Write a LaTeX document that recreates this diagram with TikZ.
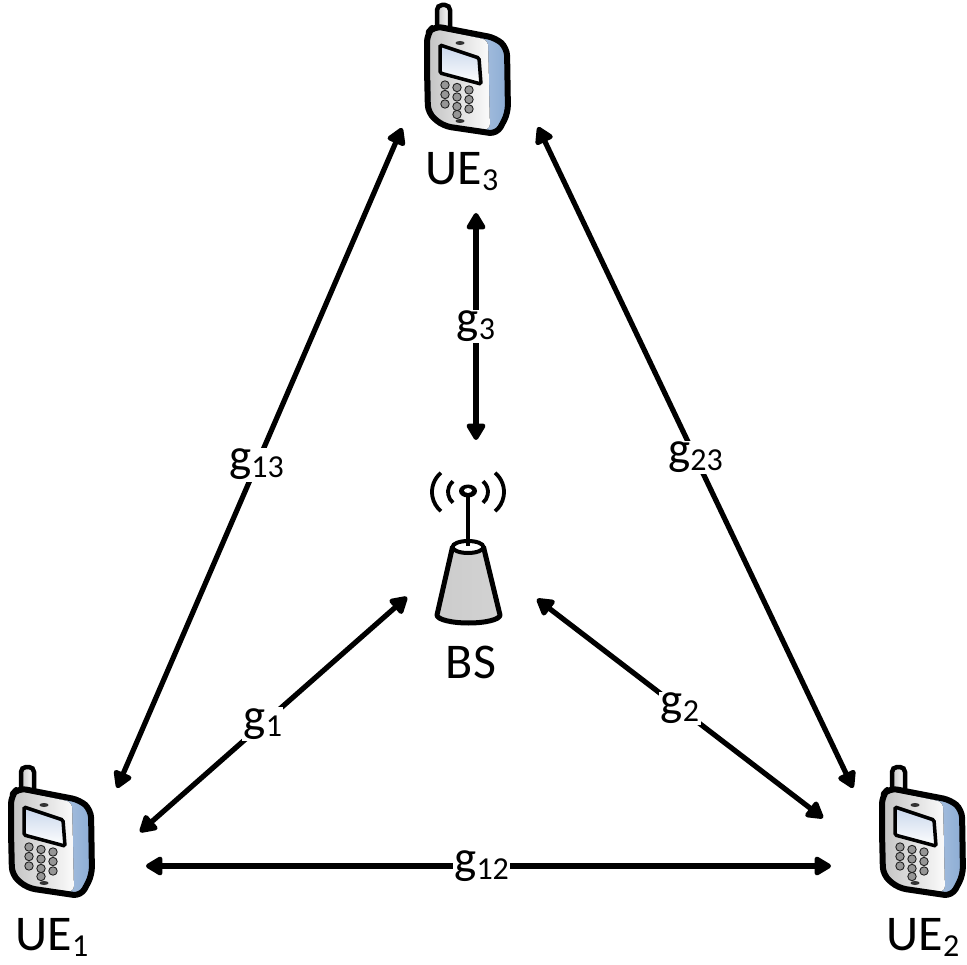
\documentclass[tikz,border=0pt]{standalone}
\usepackage{fontspec}
\setmainfont{Carlito}
\usetikzlibrary{arrows.meta}

\definecolor{phblueL}{RGB}{215,228,242}
\definecolor{phblueD}{RGB}{140,172,212}
\definecolor{scrL}{RGB}{200,214,235}
\definecolor{keyfill}{RGB}{150,150,150}

% text with a lowered, smaller index
\newcommand\sublbl[2]{#1\raisebox{-0.12em}{\fontsize{32}{32}\selectfont #2}}

\tikzset{
  x=1pt, y=-1pt,
  link/.style={line width=5.2pt,
    {Triangle[length=19pt,width=21pt,round]}-{Triangle[length=19pt,width=21pt,round]}},
  lab/.style={fill=white, inner sep=1.5pt, font=\fontsize{47}{47}\selectfont},
  devname/.style={inner sep=0pt, anchor=base, font=\fontsize{50}{50}\selectfont},
  phone/.pic={
    % antenna stub
    \draw[line width=4.5pt, rounded corners=5pt, left color=gray!45, right color=white]
      (27,40) -- (27,5) -- (40,5) -- (40,40);
    % casing, blue side
    \fill[rounded corners=8pt, left color=phblueL, right color=phblueD]
      (17,70) -- (17,34) -- (24,26) -- (86,38) -- (97,48) -- (98,113) -- (87,134)
      -- (33,126) -- (18,113) -- cycle;
    % front face
    \fill[rounded corners=6pt, left color=gray!45, right color=gray!3]
      (20,70) -- (20,34) -- (26,29) -- (78,40) -- (80,130) -- (34,124) -- (21,111) -- cycle;
    % outline
    \draw[line width=6pt, rounded corners=8pt, line join=round]
      (17,70) -- (17,34) -- (24,26) -- (86,38) -- (97,48) -- (98,113) -- (87,134)
      -- (33,126) -- (18,113) -- cycle;
    % screen
    \draw[line width=3.5pt, rounded corners=1.5pt, top color=scrL, bottom color=white]
      (30,45) -- (69,58) -- (71,84) -- (30,73) -- cycle;
    % speaker and microphone slots
    \fill[gray!40!black] (50,43) ellipse [x radius=4.5pt, y radius=2pt];
    \fill[gray!40!black] (50,121) ellipse [x radius=4.5pt, y radius=2pt];
    % keypad
    \foreach \c in {0,1,2}
      \foreach \r in {0,1,2}
        \filldraw[fill=keyfill, draw=gray!25!black, line width=0.9pt]
          ({35+12*\c},{85+9.5*\r+2.5*\c}) circle [radius=4.2pt];
    \filldraw[fill=keyfill, draw=gray!25!black, line width=0.9pt]
      (47,114.5) circle [radius=4.2pt];
  }
}

\begin{document}
\begin{tikzpicture}
\useasboundingbox (0,0) rectangle (967,965);

% user terminals
\pic at (410,0) {phone};
\pic at (-6,762) {phone};
\pic at (865,762) {phone};

\node[devname] (ue3) at (462,185) {\sublbl{UE}{3}};
\node[devname] (ue1) at (52,950) {\sublbl{UE}{1}};
\node[devname] (ue2) at (923,950) {\sublbl{UE}{2}};

% base station
\draw[line width=3.8pt] (462,492) ++(130:14pt) arc [start angle=130, end angle=230, radius=14pt];
\draw[line width=3.8pt] (474,492) ++(50:14pt) arc [start angle=50, end angle=-50, radius=14pt];
\draw[line width=3.8pt] (457,492) ++(130:25pt) arc [start angle=130, end angle=230, radius=25pt];
\draw[line width=3.8pt] (479,492) ++(50:25pt) arc [start angle=50, end angle=-50, radius=25pt];
\fill (468,491) ellipse [x radius=9pt, y radius=6.5pt];
\fill[white] (468,490.5) ellipse [x radius=4pt, y radius=2.4pt];
\draw[line width=5pt, line join=round, left color=gray!40, middle color=white, right color=gray!35]
  (452.5,547) -- (437,615) arc [start angle=180, end angle=360, x radius=31.5pt, y radius=8pt]
  -- (483.5,547) -- cycle;
\draw[line width=4pt, fill=white] (468,547) ellipse [x radius=15.5pt, y radius=6pt];
\draw[line width=4.5pt] (468,497) -- (468,546);
\node[devname] (bs) at (471,678) {BS};

% link end points
\coordinate (t3a) at (476,213);
\coordinate (t3b) at (476,440);
\coordinate (t13a) at (402,128);
\coordinate (t13b) at (117,788);
\coordinate (t23a) at (538,127);
\coordinate (t23b) at (853,788);
\coordinate (t1a) at (407,597);
\coordinate (t1b) at (140,832);
\coordinate (t2a) at (537,599);
\coordinate (t2b) at (823,818);
\coordinate (t12a) at (146,866);
\coordinate (t12b) at (831,866);

% channels
\draw[link] (t3a) -- node[lab, pos=0.5] (g3) {\sublbl{g}{3}} (t3b);
\draw[link] (t13a) -- node[lab, pos=0.51] (g13) {\sublbl{g}{13}} (t13b);
\draw[link] (t23a) -- node[lab, pos=0.5] (g23) {\sublbl{g}{23}} (t23b);
\draw[link] (t1a) -- node[lab, pos=0.54] (g1) {\sublbl{g}{1}} (t1b);
\draw[link] (t2a) -- node[lab, pos=0.5] (g2) {\sublbl{g}{2}} (t2b);
\draw[link] (t12a) -- node[lab, pos=0.49] (g12) {\sublbl{g}{12}} (t12b);
\end{tikzpicture}
\end{document}
